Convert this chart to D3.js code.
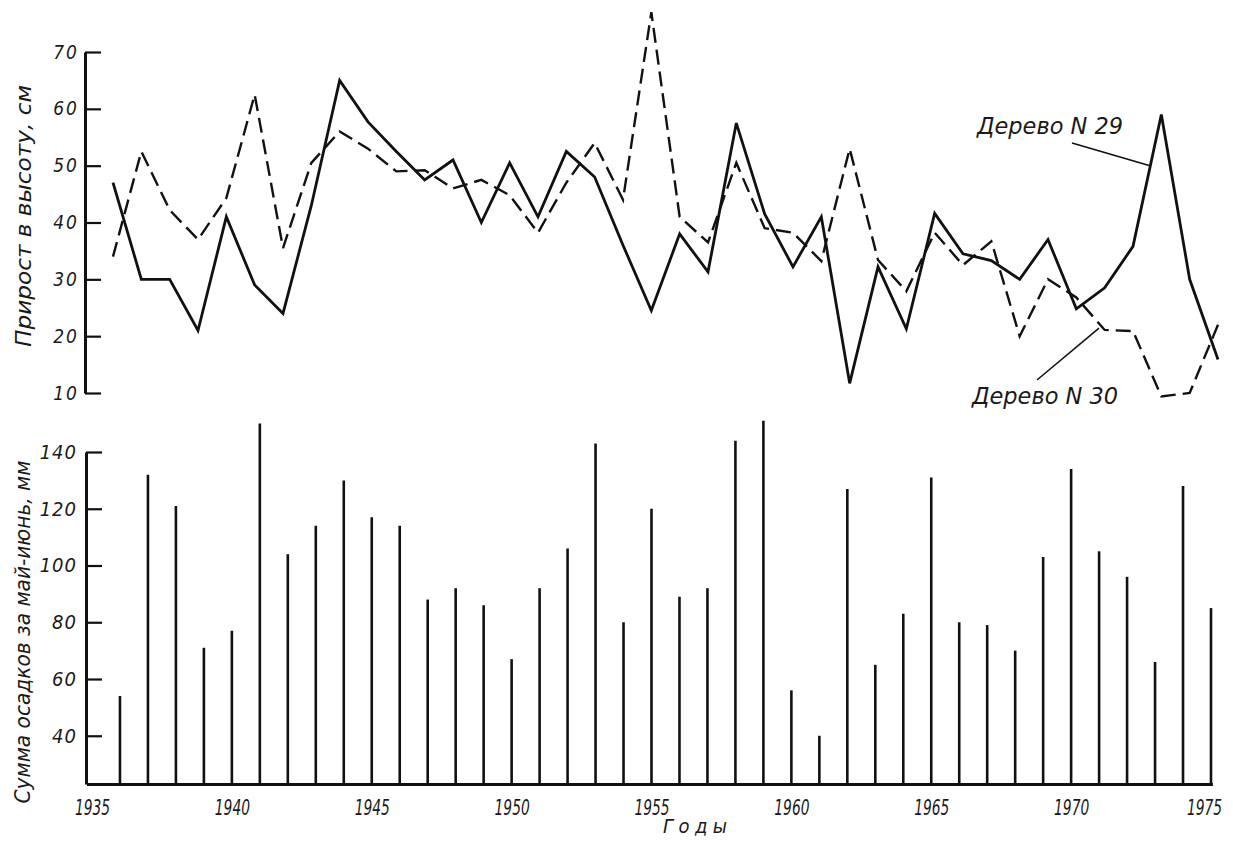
<!DOCTYPE html>
<html>
<head>
<meta charset="utf-8">
<script src="https://cdn.jsdelivr.net/npm/d3@7"></script>
<style>
    body { margin: 0; background: #fff; }
    text { font-family: "DejaVu Sans Condensed", "Liberation Sans Narrow", sans-serif; font-style: italic; fill: #1a1a1a; }
    .axis path { stroke: #111; stroke-width: 3px; }
    .axis line { stroke: #111; stroke-width: 2.2px; }
</style>
</head>
<body>
<div id="chart"></div>
<script>
// years on the x axis
let years = d3.range(1936, 1976);
let yearTicks = [1935, 1940, 1945, 1950, 1955, 1960, 1965, 1970, 1975];

// height growth, cm (tree 29 solid, tree 30 dashed)
let tree29 = [47, 30, 30, 21, 41, 29, 24, 43, 65, 57.7, 52.5, 47.5, 51, 40, 50.5, 41, 52.5, 48, 36, 24.5,
    38, 31.3, 57.5, 41.5, 32.2, 41, 11.7, 32.2, 21.3, 41.6, 34.5, 33.3, 30, 37, 24.8, 28.5, 35.8, 59, 30, 15.9];
let tree30 = [34, 52.5, 42.2, 37, 44.3, 62.5, 35.5, 50.5, 56, 53, 49, 49.2, 46, 47.5, 44.8, 38.2, 47, 54, 44, 77,
    41, 36.5, 50.5, 39, 38.2, 33.2, 53, 33.4, 27.9, 38.2, 32.5, 36.7, 20, 30, 26.8, 21.1, 20.9, 9.4, 10, 22];

// precipitation for May-June, mm
let rain = [54, 132, 121, 71, 77, 150, 104, 114, 130, 117, 114, 88, 92, 86, 67, 92, 106, 143, 80, 120,
    89, 92, 144, 151, 56, 40, 127, 65, 83, 131, 80, 79, 70, 103, 134, 105, 96, 66, 128, 85];

let growthTicks = [10, 20, 30, 40, 50, 60, 70];
let rainTicks = [40, 60, 80, 100, 120, 140];

let width = 1233, height = 841;

let svg = d3.select("#chart").append("svg")
    .attr("width", width)
    .attr("height", height);

// scales
let xTop = d3.scaleLinear().domain([1936, 1975]).range([113, 1218]);
let xBot = d3.scaleLinear().domain([1934.8, 1975.05]).range([86.4, 1212.4]);
let yTop = d3.scaleLinear().domain([10, 70]).range([393, 52]);
let yBot = d3.scaleLinear().domain([23, 140]).range([784, 452]);

// top panel axis
let topAxis = svg.append("g")
    .attr("class", "axis")
    .attr("transform", "translate(85,0)")
    .call(d3.axisLeft(yTop).tickValues(growthTicks).tickSizeInner(-16).tickSizeOuter(0).tickPadding(6));
topAxis.selectAll("text")
    .style("font-size", "19px")
    .style("letter-spacing", "2px");

svg.append("text")
    .attr("transform", "translate(31,216) rotate(-90)")
    .attr("text-anchor", "middle")
    .attr("textLength", 262)
    .attr("lengthAdjust", "spacingAndGlyphs")
    .style("font-size", "21px")
    .text("Прирост в высоту, см");

// growth lines
let line = d3.line()
    .x((d, i) => xTop(years[i]))
    .y(d => yTop(d));

svg.append("path")
    .datum(tree30)
    .attr("d", line)
    .attr("fill", "none")
    .attr("stroke", "#111")
    .attr("stroke-width", 2.4)
    .attr("stroke-dasharray", "15,7")
    .attr("stroke-linejoin", "miter");

svg.append("path")
    .datum(tree29)
    .attr("d", line)
    .attr("fill", "none")
    .attr("stroke", "#111")
    .attr("stroke-width", 2.8)
    .attr("stroke-linejoin", "miter");

// labels with leader lines
let notes = [
    {text: "Дерево N 29", x: 977, y: 134, fromX: 1072, fromY: 143, year: 1972.6, value: 50},
    {text: "Дерево N 30", x: 972, y: 404, fromX: 1037, fromY: 380, year: 1970.8, value: 21.4}
];
notes.forEach(function(n) {
    svg.append("line")
        .attr("x1", n.fromX)
        .attr("y1", n.fromY)
        .attr("x2", xTop(n.year))
        .attr("y2", yTop(n.value))
        .attr("stroke", "#111")
        .attr("stroke-width", 1.6);
    svg.append("text")
        .attr("x", n.x)
        .attr("y", n.y)
        .attr("textLength", 146)
        .attr("lengthAdjust", "spacingAndGlyphs")
        .style("font-size", "23px")
        .text(n.text);
});

// bottom panel
let botAxis = svg.append("g")
    .attr("class", "axis")
    .attr("transform", "translate(86,0)")
    .call(d3.axisLeft(yBot).tickValues(rainTicks).tickSizeInner(-16).tickSizeOuter(0).tickPadding(9));
botAxis.selectAll("text")
    .style("font-size", "20px")
    .style("letter-spacing", "1px");

svg.selectAll(".bar")
    .data(rain)
    .enter()
    .append("line")
    .attr("class", "bar")
    .attr("x1", (d, i) => xBot(years[i]))
    .attr("x2", (d, i) => xBot(years[i]))
    .attr("y1", yBot(23))
    .attr("y2", d => yBot(d))
    .attr("stroke", "#111")
    .attr("stroke-width", 2.6);

let xAxis = svg.append("g")
    .attr("class", "axis")
    .attr("transform", "translate(0,784)")
    .call(d3.axisBottom(xBot).tickValues(yearTicks).tickSize(0).tickPadding(15).tickFormat(d3.format("d")));
// tall narrow year digits; the last one sits a little left of its year
xAxis.selectAll("text")
    .style("font-size", "22px")
    .attr("transform", d => d === 1975 ? "translate(-7,0) scale(0.7,1)" : "scale(0.7,1)");

svg.append("text")
    .attr("transform", "translate(30,632) rotate(-90)")
    .attr("text-anchor", "middle")
    .attr("textLength", 343)
    .attr("lengthAdjust", "spacingAndGlyphs")
    .style("font-size", "21px")
    .text("Сумма осадков за май-июнь, мм");

svg.append("text")
    .attr("x", 663)
    .attr("y", 833)
    .attr("textLength", 64)
    .attr("lengthAdjust", "spacing")
    .style("font-size", "20px")
    .text("Годы");
</script>
</body>
</html>
